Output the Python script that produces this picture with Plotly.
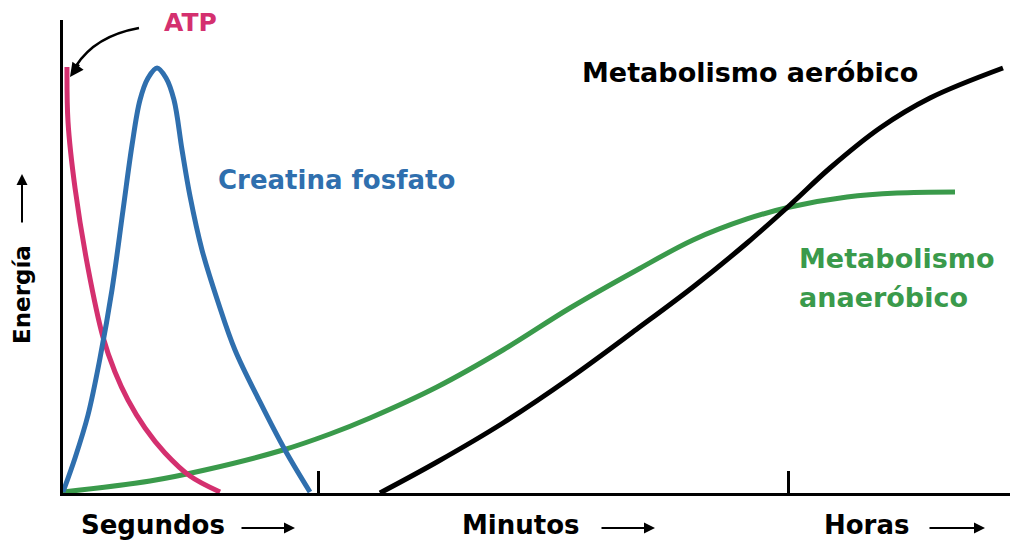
import plotly.graph_objects as go

# ---- data (arbitrary units: time 0-100, energy 0-100) ----
atp_x = [0.42, 0.53, 1.27, 2.64, 4.22, 5.49, 6.86, 8.66, 10.77, 13.41, 16.58]
atp_y = [90.06, 78.44, 64.48, 47.57, 32.98, 25.58, 19.66, 13.74, 8.46, 3.59, 0.21]

cp_x = [0, 1.27, 2.64, 3.91, 5.17, 6.34, 7.29, 8.13, 8.98, 9.93, 10.88, 11.72, 12.57, 13.41,
        14.68, 16.37, 18.16, 20.80, 23.44, 26.08]
cp_y = [0.21, 7.40, 16.49, 28.54, 42.92, 59.83, 73.57, 83.09, 87.74, 89.85, 87.74, 83.09, 72.52,
        62.79, 51.37, 40.38, 30.23, 19.24, 9.09, 0.21]

anae_x = [0, 9.19, 14.99, 23.23, 28.19, 32.42, 39.49, 46.46, 53.54, 60.61, 66.53, 72.23, 76.77,
          82.79, 88.07, 94.19]
anae_y = [0.21, 2.54, 4.86, 9.09, 12.47, 15.86, 22.41, 30.23, 39.11, 47.15, 53.49, 57.93, 60.47,
          62.58, 63.42, 63.64]

aer_x = [33.47, 39.49, 46.46, 53.54, 60.61, 66.53, 72.23, 76.77, 80.99, 86.27, 91.55, 99.26]
aer_y = [0.0, 6.55, 14.80, 24.31, 34.67, 43.55, 52.85, 60.89, 68.71, 77.17, 83.51, 89.85]

tick_vals = [27.0, 76.6]
period_labels = ["Segundos", "Minutos", "Horas"]

PINK = "#d4306f"
BLUE = "#2f6fae"
GREEN = "#3a9a4b"
BLACK = "#000000"
FONT = "DejaVu Sans"

# ---- layout geometry ----
W, H = 1024, 554
ML, MR, MT, MB = 63, 14, 20, 61
PW, PH = W - ML - MR, H - MT - MB


def px(x):
    return (x - ML) / PW


def py(y):
    return (H - MB - y) / PH


fig = go.Figure()
for xs, ys, c in [(anae_x, anae_y, GREEN), (aer_x, aer_y, BLACK),
                  (atp_x, atp_y, PINK), (cp_x, cp_y, BLUE)]:
    fig.add_trace(go.Scatter(x=xs, y=ys, mode="lines",
                             line=dict(color=c, width=5, shape="spline", smoothing=1.0),
                             hoverinfo="skip", showlegend=False))

annotations = []


def text(s, x, y, color, size=26, xanchor="center", angle=0):
    annotations.append(dict(text="<b>%s</b>" % s, x=px(x), y=py(y), xref="paper", yref="paper",
                            showarrow=False, xanchor=xanchor, yanchor="middle", textangle=angle,
                            font=dict(family=FONT, size=size, color=color)))


def arrow(x0, y0, x1, y1, width=2):
    annotations.append(dict(text="", x=px(x1), y=py(y1), xref="paper", yref="paper",
                            ax=x0 - x1, ay=y0 - y1, axref="pixel", ayref="pixel",
                            showarrow=True, arrowhead=2, arrowsize=1.1, arrowwidth=width,
                            arrowcolor="black", standoff=0, startstandoff=0))


text("ATP", 190, 22, PINK, 25)
text("Creatina fosfato", 336, 180, BLUE, 26)
text("Metabolismo aeróbico", 750, 72, BLACK, 27)
text("Metabolismo", 797, 258, GREEN, 27, xanchor="left")
text("anaeróbico", 797, 297, GREEN, 27, xanchor="left")
text("Energía", 22, 295, BLACK, 23, angle=-90)
arrow(22, 224, 22, 174)

label_centers = [153, 521, 866]
arrow_spans = [(240, 295), (600, 655), (928, 985)]
for lab, cx, (a0, a1) in zip(period_labels, label_centers, arrow_spans):
    text(lab, cx, 525, BLACK, 26)
    arrow(a0, 528, a1, 528)

# ATP pointer arrow head
arrow(80, 63, 70, 77, width=2.5)

fig.update_layout(
    width=W, height=H,
    margin=dict(l=ML, r=MR, t=MT, b=MB, pad=0),
    paper_bgcolor="white", plot_bgcolor="white",
    annotations=annotations,
    shapes=[dict(type="path", xref="paper", yref="paper",
                 path="M %f,%f Q %f,%f %f,%f" % (px(139), py(28), px(95), py(36), px(76), py(66)),
                 line=dict(color="black", width=2.5))],
    xaxis=dict(range=[0, 100], showgrid=False, zeroline=False, showline=True, linecolor="black",
               linewidth=3, tickvals=tick_vals, ticks="inside", ticklen=22, tickwidth=2.5,
               tickcolor="black", showticklabels=False, fixedrange=True),
    yaxis=dict(range=[0, 100], showgrid=False, zeroline=False, showline=True, linecolor="black",
               linewidth=3, showticklabels=False, ticks="", fixedrange=True),
)

fig.write_html("out.html", config={"displayModeBar": False})
